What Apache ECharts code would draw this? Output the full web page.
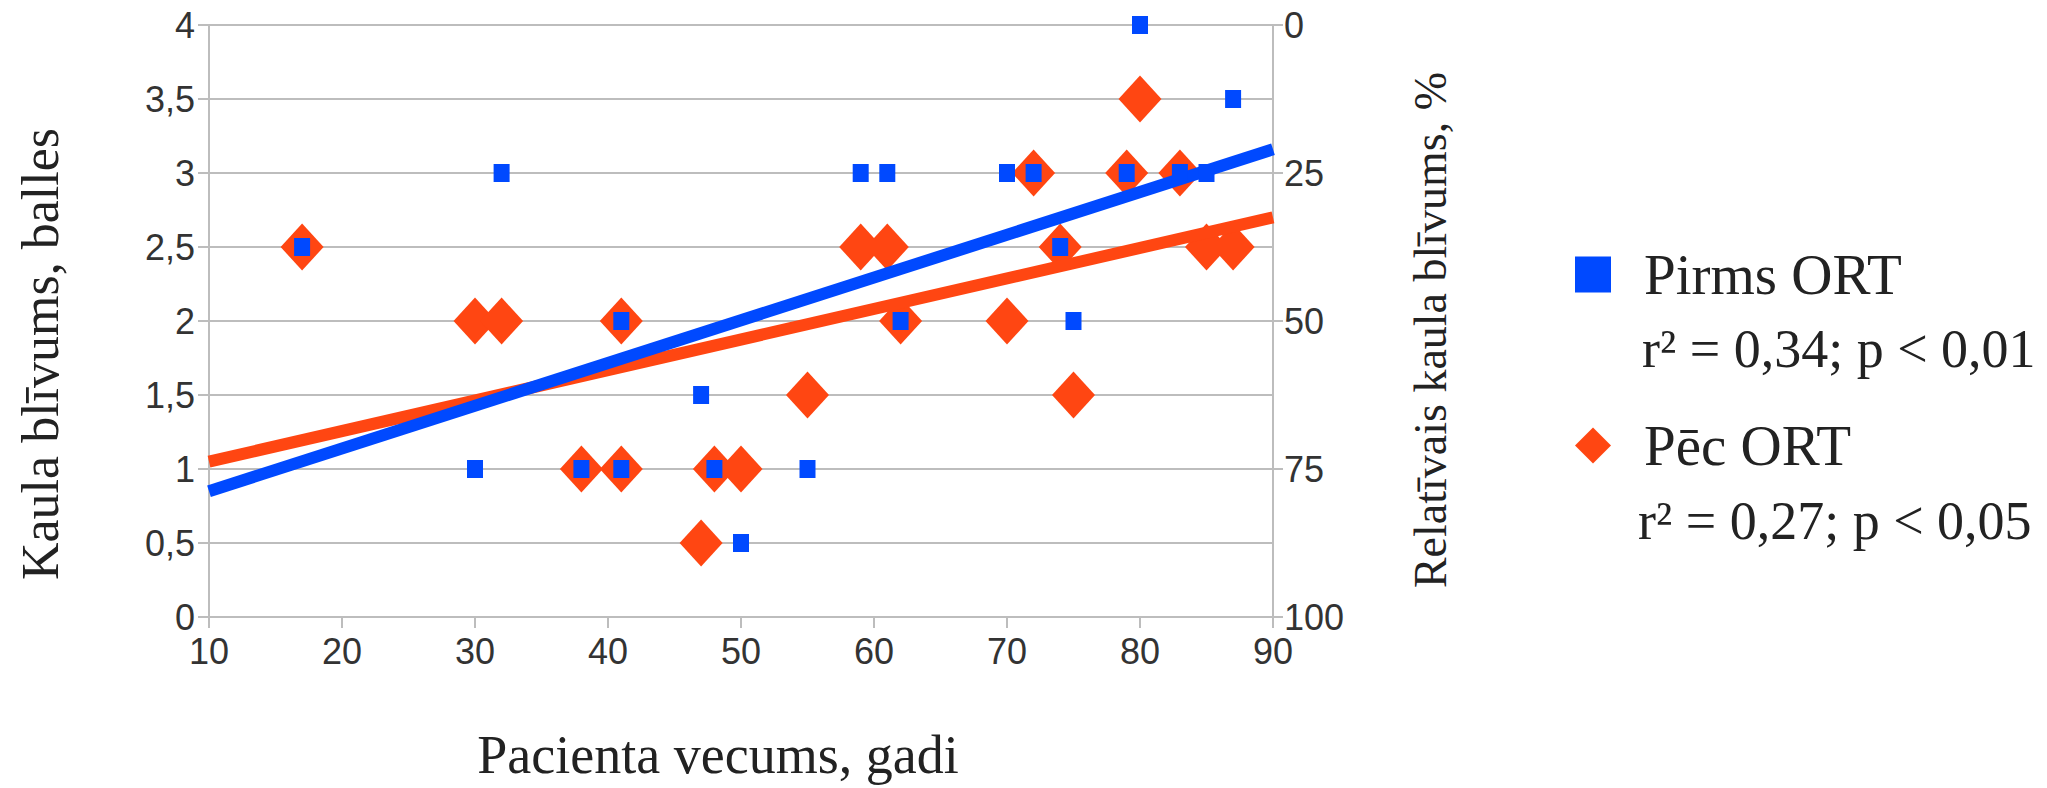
<!DOCTYPE html>
<html>
<head>
<meta charset="utf-8">
<script src="https://cdn.jsdelivr.net/npm/echarts@6/dist/echarts.min.js"></script>
<style>
html,body{margin:0;padding:0;background:#fff;}
#chart{width:2047px;height:788px;}
</style>
</head>
<body>
<div id="chart"></div>
<script>
// ---- data ----
const agePirms  = [17, 30, 32, 38, 41, 41, 47, 48, 50, 55, 59, 61, 62, 70, 72, 74, 75, 79, 80, 83, 85, 87];
const densPirms = [2.5, 1, 3, 1, 1, 2, 1.5, 1, 0.5, 1, 3, 3, 2, 3, 3, 2.5, 2, 3, 4, 3, 3, 3.5];
const agePec    = [17, 30, 32, 38, 41, 41, 47, 48, 50, 55, 59, 61, 62, 70, 72, 74, 75, 79, 80, 83, 85, 87];
const densPec   = [2.5, 2, 2, 1, 1, 2, 0.5, 1, 1, 1.5, 2.5, 2.5, 2, 2, 3, 2.5, 1.5, 3, 3.5, 3, 2.5, 2.5];
// trend line end points (age, density)
const trendAge   = [10, 90];
const trendPirms = [0.85, 3.16];
const trendPec   = [1.05, 2.70];
const seriesNames = ['Pirms ORT', 'Pēc ORT'];
const statTexts = ['r² = 0,34; p < 0,01', 'r² = 0,27; p < 0,05'];
const xTitle = 'Pacienta vecums, gadi';
const yTitle = 'Kaula blīvums, balles';
const y2Title = 'Relatīvais kaula blīvums, %';

const BLUE = '#0049ff';
const RED = '#ff4612';
const GRAY = '#bdbdbd';
const TICKFONT = "'Liberation Sans Narrow', 'Liberation Sans', Arial, sans-serif";
const SERIF = "'Liberation Serif', 'Times New Roman', serif";

const zip = (a, b) => a.map((v, i) => [v, b[i]]);

const chart = echarts.init(document.getElementById('chart'), null, {renderer: 'svg'});
chart.setOption({
  animation: false,
  backgroundColor: '#fff',
  grid: {left: 209, right: 774, top: 25, bottom: 171, containLabel: false},
  xAxis: {
    type: 'value', min: 10, max: 90, interval: 10,
    axisLine: {show: true, lineStyle: {color: GRAY, width: 2}},
    axisTick: {show: true, length: 11, lineStyle: {color: GRAY, width: 2}},
    splitLine: {show: false},
    axisLabel: {color: '#333', fontFamily: TICKFONT, fontSize: 36, margin: 16}
  },
  yAxis: [{
    type: 'value', min: 0, max: 4, interval: 0.5,
    axisLine: {show: true, lineStyle: {color: GRAY, width: 2}},
    axisTick: {show: true, length: 11, lineStyle: {color: GRAY, width: 2}},
    splitLine: {show: true, lineStyle: {color: GRAY, width: 2}},
    axisLabel: {color: '#333', fontFamily: TICKFONT, fontSize: 36, margin: 14,
      formatter: v => String(v).replace('.', ',')}
  }, {
    type: 'value', min: 0, max: 100, interval: 25, inverse: true, position: 'right',
    axisLine: {show: true, lineStyle: {color: GRAY, width: 2}},
    axisTick: {show: true, length: 10, lineStyle: {color: GRAY, width: 2}},
    splitLine: {show: false},
    axisLabel: {color: '#333', fontFamily: TICKFONT, fontSize: 36, margin: 11}
  }],
  legend: {
    orient: 'vertical', left: 1570, top: 241,
    itemWidth: 36, itemHeight: 36, itemGap: 114,
    data: [{name: seriesNames[0], icon: 'rect'}, {name: seriesNames[1], icon: 'diamond'}],
    textStyle: {fontFamily: SERIF, fontSize: 57, color: '#222', lineHeight: 40, padding: [0, 0, 0, 28]},
    selectedMode: false
  },
  graphic: [
    {type: 'text', left: 1642, top: 322, style: {text: statTexts[0], font: "54px " + SERIF, fill: '#222'}},
    {type: 'text', left: 1638, top: 494, style: {text: statTexts[1], font: "54px " + SERIF, fill: '#222'}},
    {type: 'text', x: 718, y: 755, style: {text: xTitle, font: "54px " + SERIF, fill: '#222', textAlign: 'center', textVerticalAlign: 'middle'}},
    {type: 'text', x: 40, y: 354, rotation: Math.PI / 2, style: {text: yTitle, font: "52px " + SERIF, fill: '#222', textAlign: 'center', textVerticalAlign: 'middle'}},
    {type: 'text', x: 1430, y: 330, rotation: Math.PI / 2, style: {text: y2Title, font: "46px " + SERIF, fill: '#222', textAlign: 'center', textVerticalAlign: 'middle'}}
  ],
  series: [
    {name: seriesNames[1], type: 'scatter', z: 2, symbol: 'diamond', symbolSize: [43, 47],
      itemStyle: {color: RED, opacity: 1}, data: zip(agePec, densPec)},
    {name: 'trendPec', type: 'line', z: 3, symbol: 'none', silent: true,
      lineStyle: {color: RED, width: 12}, data: zip(trendAge, trendPec)},
    {name: 'trendPirms', type: 'line', z: 4, symbol: 'none', silent: true,
      lineStyle: {color: BLUE, width: 12}, data: zip(trendAge, trendPirms)},
    {name: seriesNames[0], type: 'scatter', z: 5, symbol: 'rect', symbolSize: [16, 18],
      itemStyle: {color: BLUE, opacity: 1}, data: zip(agePirms, densPirms)}
  ]
});
</script>
</body>
</html>
